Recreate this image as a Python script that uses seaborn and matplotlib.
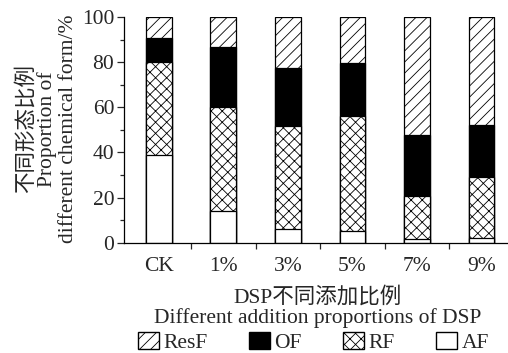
import matplotlib
matplotlib.use("Agg")
import matplotlib.pyplot as plt
from matplotlib.patches import Patch
import numpy as np
import pandas as pd
import seaborn as sns

# Proporciones de cada forma quimica (%)
categories = ["CK", "1%", "3%", "5%", "7%", "9%"]
af = [39.0, 14.3, 6.0, 5.4, 1.8, 2.1]
rf = [41.0, 45.9, 45.7, 50.9, 19.0, 27.2]
of = [10.7, 26.5, 25.9, 23.5, 26.9, 22.9]
resf = [9.3, 13.3, 22.4, 20.2, 52.3, 47.8]

ylabel_lines = ["不同形态比例", "Proportion of", "different chemical form/%"]
xlabel_lines = ["DSP不同添加比例", "Different addition proportions of DSP"]

FONT = ["Liberation Serif", "Noto Sans CJK SC"]
FS = 15.5

sns.set_theme(style="ticks")
plt.rcParams["font.family"] = FONT
plt.rcParams["font.size"] = FS
plt.rcParams["hatch.linewidth"] = 0.6
plt.rcParams["hatch.color"] = "black"

data = pd.DataFrame({"cat": categories, "AF": af, "RF": rf, "OF": of, "ResF": resf})
data["c_af"] = data["AF"]
data["c_rf"] = data["c_af"] + data["RF"]
data["c_of"] = data["c_rf"] + data["OF"]
data["c_resf"] = data["c_of"] + data["ResF"]

layers = [
    ("c_resf", "white", "///"),
    ("c_of", "black", ""),
    ("c_rf", "white", "xxx"),
    ("c_af", "white", ""),
]

fig = plt.figure(figsize=(5.08, 3.53), dpi=100)
ax = fig.add_axes([0.244, 0.312, 0.756, 0.64])

for column, face, hatch in layers:
    n_before = len(ax.patches)
    sns.barplot(data=data, x="cat", y=column, color=face, width=0.4,
                edgecolor="black", linewidth=0.9, saturation=1, ax=ax)
    for patch in ax.patches[n_before:]:
        patch.set_facecolor(face)
        patch.set_hatch(hatch)

ax.set_xlim(-0.54, 5.41)
ax.set_ylim(0, 100)
ax.set_yticks(np.arange(0, 101, 20))
ax.set_yticks(np.arange(10, 100, 20), minor=True)
ax.set_xticks(np.arange(len(categories)))
ax.set_xticklabels(categories)
ax.set_xticks(np.arange(0.5, len(categories) - 1, 1), minor=True)
ax.tick_params(axis="x", which="major", length=0, pad=10, labelsize=FS)
ax.tick_params(axis="x", which="minor", length=4, width=0.9, direction="out")
ax.tick_params(axis="y", which="major", length=5, width=0.9, labelsize=FS, pad=2)
ax.tick_params(axis="y", which="minor", length=3, width=0.9)
for side in ["top", "right"]:
    ax.spines[side].set_visible(False)
for side in ["left", "bottom"]:
    ax.spines[side].set_linewidth(0.9)
    ax.spines[side].set_color("black")
ax.set_xlabel("")
ax.set_ylabel("")

for x, line in zip([0.052, 0.092, 0.135], ylabel_lines):
    fig.text(x, 0.635, line, rotation=90, ha="center", va="center", fontsize=FS)
for y, line in zip([0.158, 0.099], xlabel_lines):
    fig.text(0.626, y, line, ha="center", va="center", fontsize=FS)

handles = [
    Patch(facecolor="white", edgecolor="black", hatch="///", label="ResF"),
    Patch(facecolor="black", edgecolor="black", label="OF"),
    Patch(facecolor="white", edgecolor="black", hatch="xxx", label="RF"),
    Patch(facecolor="white", edgecolor="black", label="AF"),
]
fig.legend(handles=handles, loc="lower center", bbox_to_anchor=(0.617, -0.055),
           ncol=4, frameon=False, fontsize=FS, handlelength=1.0,
           handleheight=0.8, handletextpad=0.2, columnspacing=1.9)

fig.savefig("out.png", dpi=100)
